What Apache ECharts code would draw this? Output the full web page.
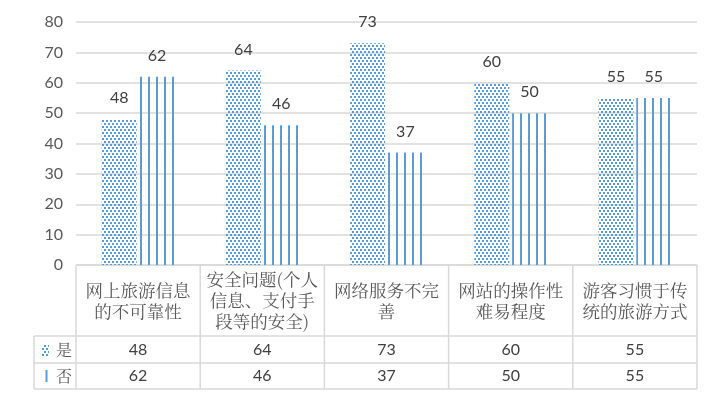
<!DOCTYPE html>
<html><head><meta charset="utf-8">
<script src="https://cdn.jsdelivr.net/npm/echarts@6/dist/echarts.min.js"></script>
<style>html,body{margin:0;padding:0;background:#fff}#c{width:720px;height:414px}</style>
</head><body><div id="c"></div>
<script>
const categories = ['网上旅游信息\n的不可靠性', '安全问题(个人\n信息、支付手\n段等的安全)', '网络服务不完\n善', '网站的操作性\n难易程度', '游客习惯于传\n统的旅游方式'];
const seriesNames = ['是', '否'];
const yesValues = [48, 64, 73, 60, 55];
const noValues = [62, 46, 37, 50, 55];
const yTicks = { min: 0, max: 80, interval: 10 };

const BLUE = '#5B9BD5';
const GRID = '#D9D9D9';
const NUM_FONT = 'Lato, "Liberation Sans", sans-serif';
const CJK_FONT = '"Noto Serif CJK SC", "Noto Sans CJK SC", serif';

function dotCanvas() {
  const c = document.createElement('canvas'); c.width = 4; c.height = 6;
  const g = c.getContext('2d'); g.fillStyle = BLUE;
  g.fillRect(0, 0, 2, 2); g.fillRect(2, 3, 2, 2);
  return c;
}
function stripeCanvas() {
  const c = document.createElement('canvas'); c.width = 8; c.height = 4;
  const g = c.getContext('2d'); g.fillStyle = BLUE;
  g.fillRect(0, 0, 2, 4);
  return c;
}
const DOT_IMG = dotCanvas(), STRIPE_IMG = stripeCanvas();
const dotPat = (x) => ({ image: DOT_IMG, repeat: 'repeat', x: x || 0 });
const stripePat = (x) => ({ image: STRIPE_IMG, repeat: 'repeat', x: x || 0 });

const L = 76, R = 697, T = 22, B = 265;
const rowY = [336, 363, 389];
const tableLeft = 34;

const chart = echarts.init(document.getElementById('c'), null, { renderer: 'canvas' });

const graphics = [];
const line = (x1, y1, x2, y2) => graphics.push({ type: 'line', shape: { x1, y1, x2, y2 }, style: { stroke: GRID, lineWidth: 1.5 }, silent: true });
line(L, B, R, B);
rowY.forEach(y => line(tableLeft, y, R, y));
line(tableLeft, rowY[0], tableLeft, rowY[2]);
for (let k = 0; k <= categories.length; k++) {
  const x = L + (R - L) * k / categories.length;
  line(x, B, x, rowY[2]);
}
// legend keys in the data table
graphics.push({ type: 'rect', shape: { x: 42, y: 344, width: 7, height: 12 }, style: { fill: dotPat(42) }, silent: true });
graphics.push({ type: 'rect', shape: { x: 45.5, y: 370, width: 2, height: 12 }, style: { fill: BLUE }, silent: true });
[0, 1].forEach(i => graphics.push({
  type: 'text', x: 56, y: (i === 0 ? (rowY[0] + rowY[1]) / 2 : (rowY[1] + rowY[2]) / 2),
  style: { text: seriesNames[i], font: '16px ' + CJK_FONT, fill: '#595959', verticalAlign: 'middle', align: 'left' }, silent: true
}));

const tableAxis = (vals, margin) => ({
  type: 'category', data: categories, position: 'bottom', gridIndex: 0,
  axisLine: { show: false }, axisTick: { show: false }, splitLine: { show: false },
  axisLabel: { interval: 0, margin, verticalAlign: 'middle', color: '#404040', fontSize: 16, fontFamily: NUM_FONT,
    formatter: (v, i) => String(vals[i]) }
});

const labelCfg = { show: true, position: 'top', distance: 13, color: '#404040', fontSize: 16, fontFamily: NUM_FONT };

chart.setOption({
  animation: false,
  grid: { left: L, right: 720 - R, top: T, bottom: 414 - B, containLabel: false },
  xAxis: [
    { type: 'category', data: categories, position: 'bottom',
      axisLine: { show: false }, axisTick: { show: false },
      axisLabel: { interval: 0, margin: 35.5, verticalAlign: 'middle', color: '#595959', fontSize: 17.5, lineHeight: 21, fontFamily: CJK_FONT } },
    tableAxis(yesValues, (rowY[0] + rowY[1]) / 2 - B),
    tableAxis(noValues, (rowY[1] + rowY[2]) / 2 - B)
  ],
  yAxis: {
    type: 'value', min: yTicks.min, max: yTicks.max, interval: yTicks.interval,
    axisLine: { show: false }, axisTick: { show: false },
    axisLabel: { color: '#595959', fontSize: 16, fontFamily: NUM_FONT, margin: 13 },
    splitLine: { lineStyle: { color: GRID, width: 1.5 } }
  },
  series: [
    { name: seriesNames[0], type: 'bar', data: yesValues, barWidth: 35, barGap: '8%',
      itemStyle: { color: dotPat(0) }, label: labelCfg },
    { name: seriesNames[1], type: 'bar', data: noValues, barWidth: 35, barGap: '8%',
      itemStyle: { color: stripePat(0) }, label: labelCfg }
  ],
  graphic: graphics
});

// Anchor each bar's fill pattern to its own left edge (as the original does)
try {
  const model = chart.getModel();
  const d0 = model.getSeriesByIndex(0).getData();
  const d1 = model.getSeriesByIndex(1).getData();
  chart.setOption({
    series: [
      { data: yesValues.map((v, i) => ({ value: v, itemStyle: { color: dotPat(Math.round(d0.getItemLayout(i).x)) } })) },
      { data: noValues.map((v, i) => ({ value: v, itemStyle: { color: stripePat(Math.round(d1.getItemLayout(i).x)) } })) }
    ]
  });
} catch (e) {}
</script></body></html>
